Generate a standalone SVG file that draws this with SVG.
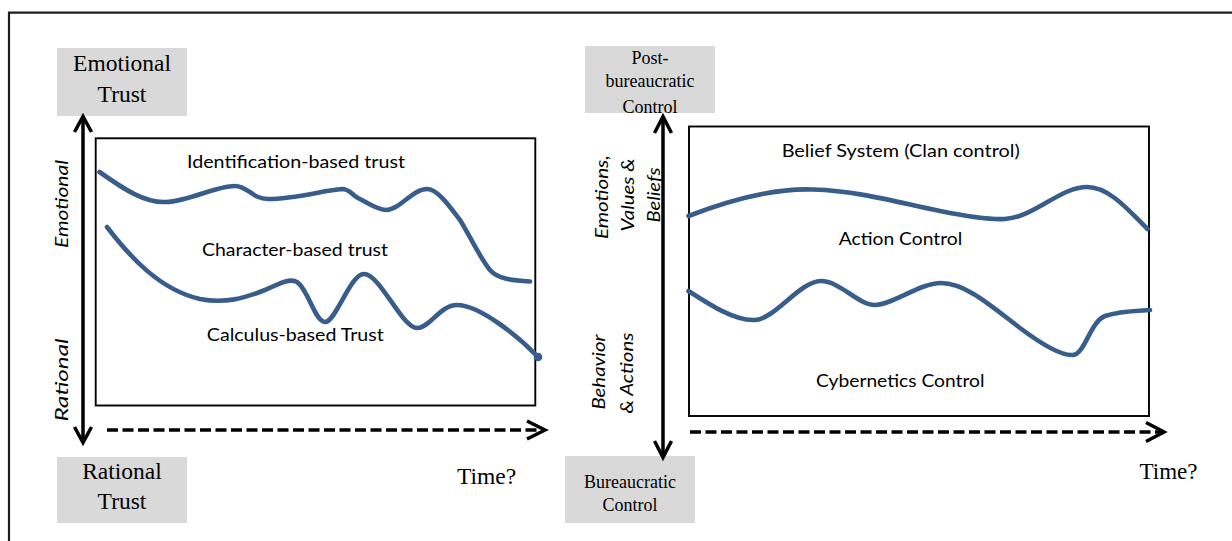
<svg xmlns="http://www.w3.org/2000/svg" width="1232" height="541" viewBox="0 0 1232 541">
<style>
.frame{fill:none;stroke:#1e1e1e;stroke-width:2.2}
.panel{fill:none;stroke:#000;stroke-width:1.9}
.curve{fill:none;stroke:#385D8A;stroke-width:4.6;stroke-linecap:round;stroke-linejoin:round}
.ax{fill:none;stroke:#000;stroke-width:3.5}
.dash{fill:none;stroke:#000;stroke-width:3.6;stroke-dasharray:11 4.5}
.head{fill:none;stroke:#000;stroke-width:3.5;stroke-linejoin:miter}
.box{fill:#d9d9d9}
.serif{font-family:"Liberation Serif","Times New Roman",serif;fill:#000;text-anchor:middle}
.lbl{font-family:Lato,"Open Sans",sans-serif;font-size:18px;fill:#000;text-anchor:middle}
.rot{font-family:Lato,"Open Sans",sans-serif;font-size:17.5px;font-style:italic;fill:#000;text-anchor:middle}
</style>
<rect width="1232" height="541" fill="#fff"/>
<path class="frame" d="M9 541 V12.7 H1232"/>

<g id="left-panel">
<rect class="panel" x="95.7" y="138.3" width="439.6" height="267.2"/>
<path class="curve" d="M99.5 172 C125 190,145 203,166 202 C190 201,215 186,235 186 C248 186,252 199,268 199 C295 199,325 190,342 189 C350 189,352 195,358 198 C370 204,378 210,386 210 C400 210,412 189,427 189 C437 189,448 204,460 220 C470 236,480 258,490 270 C498 279,510 280,530 281.5"/>
<path class="curve" d="M107 227 C130 257,160 290,200 299 C225 304,245 298,265 290 C280 283,290 278,297 282 C308 289,315 322,325 322 C336 322,350 274,364 274 C380 274,402 328,417 328 C430 328,440 305,457 305 C480 305,520 338,537 356"/>
<circle cx="538" cy="357" r="4.3" fill="#385D8A"/>
<text class="lbl" x="296" y="168" textLength="218" lengthAdjust="spacingAndGlyphs">Identification-based trust</text>
<text class="lbl" x="295" y="256" textLength="186" lengthAdjust="spacingAndGlyphs">Character-based trust</text>
<text class="lbl" x="295.3" y="341" textLength="177" lengthAdjust="spacingAndGlyphs">Calculus-based Trust</text>
<text class="rot" transform="translate(67.5,204) rotate(-90)" textLength="88" lengthAdjust="spacingAndGlyphs">Emotional</text>
<text class="rot" transform="translate(67.5,380) rotate(-90)" textLength="83" lengthAdjust="spacingAndGlyphs">Rational</text>
</g>

<g id="emotional-trust">
<rect class="box" x="57" y="48" width="130" height="68"/>
<text class="serif" x="122" y="71" font-size="23.5">Emotional</text>
<text class="serif" x="122" y="102" font-size="23.5">Trust</text>
</g>
<g id="rational-trust">
<rect class="box" x="57" y="457" width="130" height="66"/>
<text class="serif" x="122" y="479" font-size="23.5">Rational</text>
<text class="serif" x="122" y="509" font-size="23.5">Trust</text>
</g>
<g id="time-left">
<text class="serif" x="486.5" y="484" font-size="23.5">Time?</text>
</g>

<g id="right-panel">
<rect class="panel" x="689" y="126.5" width="460" height="289.5"/>
<path class="curve" d="M688.5 216 C730 200,775 188,813 189.5 C860 191,900 203,940 211 C970 217,990 220,1005 219 C1035 217,1060 187,1087 187 C1110 187,1130 212,1147.5 229"/>
<path class="curve" d="M688.5 291 C710 305,735 321,755 320 C775 319,800 281,821 281 C840 281,858 305,875 305 C892 305,920 283,941 283 C965 283,990 305,1020 328 C1040 343,1060 356,1073 355 C1085 354,1090 322,1105 316 C1120 311,1135 311,1150 310"/>
<text class="lbl" x="900.7" y="157" textLength="238" lengthAdjust="spacingAndGlyphs">Belief System (Clan control)</text>
<text class="lbl" x="900.5" y="245" textLength="123.5" lengthAdjust="spacingAndGlyphs">Action Control</text>
<text class="lbl" x="900.3" y="387" textLength="168.5" lengthAdjust="spacingAndGlyphs">Cybernetics Control</text>
<text class="rot" transform="translate(608,197) rotate(-90)" textLength="84" lengthAdjust="spacingAndGlyphs">Emotions,</text>
<text class="rot" transform="translate(633.5,195) rotate(-90)" textLength="73" lengthAdjust="spacingAndGlyphs">Values &amp;</text>
<text class="rot" transform="translate(660,195) rotate(-90)" textLength="55" lengthAdjust="spacingAndGlyphs">Beliefs</text>
<text class="rot" transform="translate(605,372) rotate(-90)" textLength="75" lengthAdjust="spacingAndGlyphs">Behavior</text>
<text class="rot" transform="translate(632.5,373) rotate(-90)" textLength="81" lengthAdjust="spacingAndGlyphs">&amp; Actions</text>
</g>

<g id="post-bureaucratic-control">
<rect class="box" x="585" y="46" width="130" height="67"/>
<text class="serif" x="650" y="64" font-size="18">Post-</text>
<text class="serif" x="650" y="87" font-size="18">bureaucratic</text>
<text class="serif" x="650" y="112.5" font-size="18">Control</text>
</g>
<g id="bureaucratic-control">
<rect class="box" x="565" y="456" width="130" height="67"/>
<text class="serif" x="630" y="488" font-size="18">Bureaucratic</text>
<text class="serif" x="630" y="511" font-size="18">Control</text>
</g>
<g id="time-right">
<text class="serif" x="1168.5" y="479" font-size="23">Time?</text>
</g>

<g id="connectors">
<line class="ax" x1="83" y1="118" x2="83" y2="441"/>
<polyline class="head" points="74.5,132 83,116.5 91.5,132"/>
<polyline class="head" points="74.5,427 83,442.5 91.5,427"/>
<line class="dash" x1="107" y1="430" x2="542" y2="430"/>
<polyline class="head" points="527,421 545,430 527,439"/>
<line class="ax" x1="663" y1="118" x2="663" y2="456"/>
<polyline class="head" points="654.5,133 663,116.5 671.5,133"/>
<polyline class="head" points="654.5,441 663,457.5 671.5,441"/>
<line class="dash" x1="690" y1="432" x2="1161" y2="432"/>
<polyline class="head" points="1146,422.5 1164,432 1146,441.5"/>
</g>
</svg>
